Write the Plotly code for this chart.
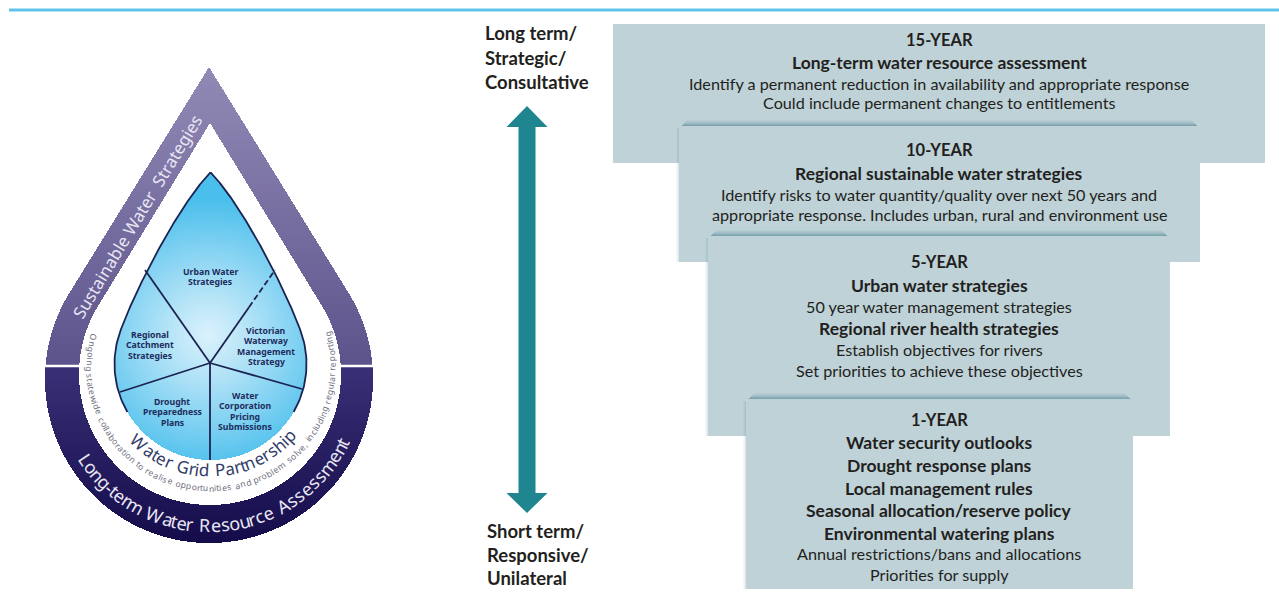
import numpy as np
import plotly.graph_objects as go

W, H = 1279, 609

# ---------------- text content ----------------
top_labels = ["Long term/", "Strategic/", "Consultative"]
bottom_labels = ["Short term/", "Responsive/", "Unilateral"]

box_titles = ["15-YEAR", "10-YEAR", "5-YEAR", "1-YEAR"]
box15_lines = ["Long-term water resource assessment",
               "Identify a permanent reduction in availability and appropriate response",
               "Could include permanent changes to entitlements"]
box15_bold = [True, False, False]
box10_lines = ["Regional sustainable water strategies",
               "Identify risks to water quantity/quality over next 50 years and",
               "appropriate response. Includes urban, rural and environment use"]
box10_bold = [True, False, False]
box5_lines = ["Urban water strategies",
              "50 year water management strategies",
              "Regional river health strategies",
              "Establish objectives for rivers",
              "Set priorities to achieve these objectives"]
box5_bold = [True, False, True, False, False]
box1_lines = ["Water security outlooks",
              "Drought response plans",
              "Local management rules",
              "Seasonal allocation/reserve policy",
              "Environmental watering plans",
              "Annual restrictions/bans and allocations",
              "Priorities for supply"]
box1_bold = [True, True, True, True, True, False, False]

segment_labels = [["Urban Water", "Strategies"],
                  ["Regional", "Catchment", "Strategies"],
                  ["Victorian", "Waterway", "Management", "Strategy"],
                  ["Drought", "Preparedness", "Plans"],
                  ["Water", "Corporation", "Pricing", "Submissions"]]

band_top_text = "Sustainable Water  Strategies"
band_bottom_text = "Long-term Water Resource Assessment"
partnership_text = "Water Grid Partnership"
ring_text = ("Ongoing statewide collaboration to realise opportunities and "
             "problem solve, including regular reporting")

# ---------------- layout geometry ----------------
box_x0 = [613, 679, 708, 746]
box_x1 = [1265, 1200, 1170, 1133]
box_y0 = [24, 126, 236, 399]
box_y1 = [163, 262, 436, 589]
box_title_y = [40, 150, 262, 420]
box_line_y = [[62, 83, 102], [173, 194, 214], [285, 306, 328, 349, 370],
              [442, 465, 488, 510, 533, 553, 574]]
box_lines = [box15_lines, box10_lines, box5_lines, box1_lines]
box_bold = [box15_bold, box10_bold, box5_bold, box1_bold]
TEXT_CX = 939

seg_pos = [(210, 272), (150, 335), (266, 331), (172, 402), (245, 396)]
SEG_LH = 10.3

# drop geometry
OUT_TIP, OUT_C, OUT_R = (208, 67), (209, 379), 164
IN_TIP, IN_C, IN_R = (210, 123), (210, 374), 131
BL_TIP, BL_C, BL_R = (210, 173), (210.5, 364), 96
DIVIDER_Y = 366
HUB = (210, 363)
spokes = [(145, 270), (120, 392), (302, 389), (210, 460)]
dashed_spoke = (275, 270)

# ---------------- drop raster ----------------
X0, X1, Y0, Y1 = 40, 380, 60, 548
xs = np.arange(X0, X1) + 0.5
ys = np.arange(Y0, Y1) + 0.5
XX, YY = np.meshgrid(xs, ys)


def straight_drop_inside(X, Y, tip, c, R):
    d = c[1] - tip[1]
    sa = R / d
    ta = sa / np.sqrt(1 - sa ** 2)
    yt = c[1] - R * sa
    w = np.full(Y.shape, -1.0)
    m1 = (Y >= tip[1]) & (Y < yt)
    w[m1] = (Y[m1] - tip[1]) * ta
    m2 = (Y >= yt) & (Y <= c[1] + R)
    w[m2] = np.sqrt(np.maximum(R ** 2 - (Y[m2] - c[1]) ** 2, 0))
    return np.abs(X - c[0]) <= w


def bezier(p0, p1, p2, p3, n=200):
    t = np.linspace(0, 1, n)[:, None]
    p0, p1, p2, p3 = map(np.array, (p0, p1, p2, p3))
    return ((1 - t) ** 3) * p0 + 3 * ((1 - t) ** 2) * t * p1 + 3 * (1 - t) * t ** 2 * p2 + t ** 3 * p3


jphi = np.radians(200)
join = (BL_C[0] + BL_R * np.cos(jphi), BL_C[1] + BL_R * np.sin(jphi))
tdir = np.array([-np.sin(jphi), np.cos(jphi)])
if tdir[1] > 0:
    tdir = -tdir
P1 = (join[0] + 50 * tdir[0], join[1] + 50 * tdir[1])
P2 = (BL_TIP[0] - 40 * 0.707, BL_TIP[1] + 40 * 0.707)
bz = bezier(join, P1, P2, BL_TIP)


def blue_inside(X, Y):
    by = bz[::-1, 1]
    bw = BL_C[0] - bz[::-1, 0]
    w = np.full(Y.shape, -1.0)
    m1 = (Y >= BL_TIP[1]) & (Y < join[1])
    w[m1] = np.interp(Y[m1], by, bw)
    m2 = (Y >= join[1]) & (Y <= BL_C[1] + BL_R)
    w[m2] = np.sqrt(np.maximum(BL_R ** 2 - (Y[m2] - BL_C[1]) ** 2, 0))
    return np.abs(X - BL_C[0]) <= w


outer = straight_drop_inside(XX, YY, OUT_TIP, OUT_C, OUT_R)
inner = straight_drop_inside(XX, YY, IN_TIP, IN_C, IN_R)
band = outer & ~inner
blue = blue_inside(XX, YY)

Z = np.full(XX.shape, np.nan, dtype=np.float32)
bottom_y = OUT_C[1] + OUT_R
zb = np.where(YY < DIVIDER_Y,
              0.2 * (YY - OUT_TIP[1]) / (DIVIDER_Y - OUT_TIP[1]),
              0.25 + 0.2 * (YY - DIVIDER_Y) / (bottom_y - DIVIDER_Y))
Z[band] = np.clip(zb[band], 0, 0.45)
dist = np.hypot(XX - 208, YY - 335)
zbl = 0.55 + 0.45 * np.clip(dist / 135, 0, 1) ** 1.1
Z[blue] = zbl[blue]

colorscale = [[0.0, "#928ab5"], [0.2, "#5c538c"], [0.25, "#393077"], [0.45, "#140c4a"],
              [0.5, "#140c4a"], [0.55, "#d9f1fb"], [0.8, "#8bd5f3"], [1.0, "#4bbfec"]]

fig = go.Figure()
fig.add_trace(go.Heatmap(x=xs, y=ys, z=Z, colorscale=colorscale, zmin=0, zmax=1,
                         showscale=False, hoverinfo="skip", zsmooth=False))

# blue drop outline
phi_l = np.radians(np.linspace(150, 200, 30))
left_arc = np.c_[BL_C[0] + BL_R * np.cos(phi_l), BL_C[1] + BL_R * np.sin(phi_l)]
right_arc = np.c_[2 * BL_C[0] - left_arc[::-1, 0], left_arc[::-1, 1]]
right_bz = np.c_[2 * BL_C[0] - bz[::-1, 0], bz[::-1, 1]]
outline = np.vstack([left_arc, bz, right_bz, right_arc])
fig.add_trace(go.Scatter(x=outline[:, 0], y=outline[:, 1], mode="lines",
                         line=dict(color="#1b2352", width=1.8), hoverinfo="skip"))

# spokes
for ex, ey in spokes:
    fig.add_trace(go.Scatter(x=[HUB[0], ex], y=[HUB[1], ey], mode="lines",
                             line=dict(color="#1b2352", width=1.8), hoverinfo="skip"))
mid = (HUB[0] + 0.6 * (dashed_spoke[0] - HUB[0]), HUB[1] + 0.6 * (dashed_spoke[1] - HUB[1]))
fig.add_trace(go.Scatter(x=[HUB[0], mid[0]], y=[HUB[1], mid[1]], mode="lines",
                         line=dict(color="#1b2352", width=1.8), hoverinfo="skip"))
fig.add_trace(go.Scatter(x=[mid[0], dashed_spoke[0]], y=[mid[1], dashed_spoke[1]], mode="lines",
                         line=dict(color="#1b2352", width=1.8, dash="6px,3px"), hoverinfo="skip"))

shapes = []
shapes.append(dict(type="line", x0=9, x1=1279, y0=10, y1=10,
                   line=dict(color="#62c3e9", width=3)))
for xa, xb in [(40, 94), (326, 380)]:
    shapes.append(dict(type="line", x0=xa, x1=xb, y0=DIVIDER_Y, y1=DIVIDER_Y,
                       line=dict(color="white", width=2.5)))

BOX_FILL = "#bed2d8"
for i in range(4):
    x0, x1, y0, y1 = box_x0[i], box_x1[i], box_y0[i], box_y1[i]
    if i > 0:
        alphas = [0.55, 0.42, 0.30, 0.2, 0.12, 0.06]
        for k, a in enumerate(alphas):
            shapes.append(dict(type="rect", x0=x0 + 3 + k, x1=x1 - 3 - k, y0=y0 - k - 1, y1=y0 - k,
                               fillcolor=f"rgba(70,125,140,{a})", line=dict(width=0)))
        for k, a in enumerate([0.18, 0.10, 0.05]):
            shapes.append(dict(type="rect", x0=x0 - k - 1, x1=x0 - k, y0=y0 + 2, y1=y1,
                               fillcolor=f"rgba(70,125,140,{a})", line=dict(width=0)))
    shapes.append(dict(type="rect", x0=x0, x1=x1, y0=y0, y1=y1,
                       fillcolor=BOX_FILL, line=dict(width=0)))

ax, sh, hh = 527, 8.5, 20.5
tt, tb, bb, bt = 106, 127, 493, 513
arrow_path = (f"M {ax-hh},{tb} L {ax},{tt} L {ax+hh},{tb} L {ax+sh},{tb} L {ax+sh},{bb} "
              f"L {ax+hh},{bb} L {ax},{bt} L {ax-hh},{bb} L {ax-sh},{bb} L {ax-sh},{tb} Z")
shapes.append(dict(type="path", path=arrow_path, fillcolor="#1f868f", line=dict(width=0)))

ann = []
RF = "Lato, 'Liberation Sans', sans-serif"
DF = "'Noto Sans', 'DejaVu Sans', sans-serif"
TXT = "#231f20"

for i, t in enumerate(top_labels):
    ann.append(dict(x=483, y=33 + i * 24.5, text=f"<b>{t}</b>", xanchor="left", yanchor="middle",
                    font=dict(family=RF, size=18.5, color=TXT)))
for i, t in enumerate(bottom_labels):
    ann.append(dict(x=485, y=531 + i * 23.5, text=f"<b>{t}</b>", xanchor="left", yanchor="middle",
                    font=dict(family=RF, size=18.5, color=TXT)))

for i in range(4):
    ann.append(dict(x=TEXT_CX, y=box_title_y[i], text=f"<b>{box_titles[i]}</b>",
                    xanchor="center", yanchor="middle", font=dict(family=RF, size=16.5, color=TXT)))
    for t, b, y in zip(box_lines[i], box_bold[i], box_line_y[i]):
        ann.append(dict(x=TEXT_CX, y=y, text=f"<b>{t}</b>" if b else t,
                        xanchor="center", yanchor="middle",
                        font=dict(family=RF, size=17.5 if b else 16.2, color=TXT)))

for (px, py), lines in zip(seg_pos, segment_labels):
    for k, t in enumerate(lines):
        ann.append(dict(x=px, y=py + k * SEG_LH, text=f"<b>{t}</b>", xanchor="center",
                        yanchor="middle", font=dict(family=DF, size=8.7, color="#1d2c5c")))

ann.append(dict(x=137, y=216, text=band_top_text, textangle=-59, xanchor="center", yanchor="middle",
                font=dict(family=DF, size=17, color="#e9e6f4")))

CW = {'a': 556, 'b': 556, 'c': 500, 'd': 556, 'e': 556, 'f': 278, 'g': 556, 'h': 556, 'i': 222,
      'j': 222, 'k': 500, 'l': 222, 'm': 833, 'n': 556, 'o': 556, 'p': 556, 'q': 556, 'r': 333,
      's': 500, 't': 278, 'u': 556, 'v': 500, 'w': 722, 'x': 500, 'y': 500, 'z': 500, ' ': 278,
      '-': 333, ',': 278, 'A': 667, 'G': 778, 'L': 556, 'O': 778, 'P': 667, 'R': 722, 'S': 667,
      'W': 944}


def arc_text(text, c, r, phi_start, phi_end, size, color):
    widths = np.array([CW.get(ch, 556) for ch in text], dtype=float)
    cum = np.cumsum(widths) - widths / 2
    total = widths.sum()
    for ch, s in zip(text, cum):
        if ch == " ":
            continue
        phi = np.radians(phi_start + (phi_end - phi_start) * s / total)
        x = c[0] + r * np.cos(phi)
        y = c[1] + r * np.sin(phi)
        ann.append(dict(x=x, y=y, text=ch, textangle=np.degrees(phi) - 90, xanchor="center",
                        yanchor="middle", showarrow=False,
                        font=dict(family=DF, size=size, color=color)))


arc_text(band_bottom_text, (209, 376), 149, 148, 25, 18, "#e9e6f4")
arc_text(partnership_text, (211, 364), 106, 137, 40, 17, "#323c68")
arc_text(ring_text, (211, 367), 121, 196, -17, 8.5, "#6d6d7c")

for a in ann:
    a.setdefault("showarrow", False)
    a["xref"] = "x"
    a["yref"] = "y"

fig.update_layout(
    width=W, height=H, margin=dict(l=0, r=0, t=0, b=0), autosize=False,
    paper_bgcolor="white", plot_bgcolor="white", showlegend=False,
    xaxis=dict(range=[0, W], visible=False, fixedrange=True),
    yaxis=dict(range=[H, 0], visible=False, fixedrange=True),
    shapes=shapes, annotations=ann,
)
for s in fig.layout.shapes:
    s.layer = "above"
fig.write_html("out.html", config={"displayModeBar": False},
               post_script="document.body.style.margin='0';")
